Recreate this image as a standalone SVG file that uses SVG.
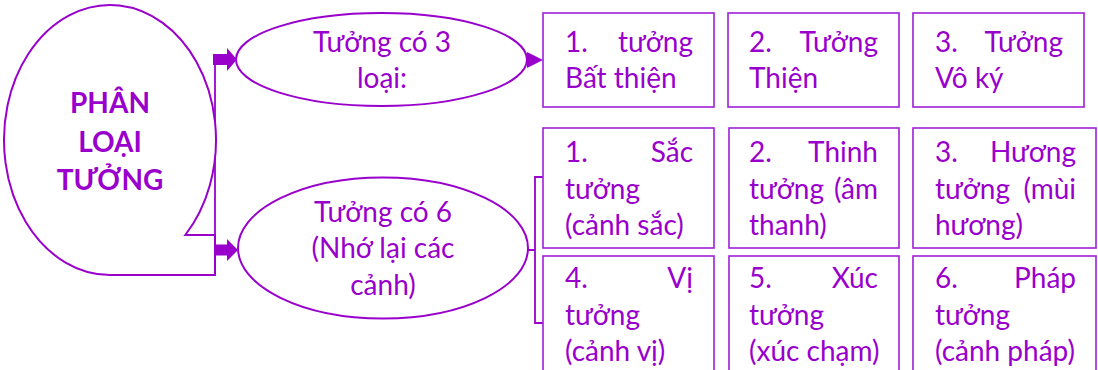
<svg xmlns="http://www.w3.org/2000/svg" width="1098" height="370" viewBox="0 0 1098 370">
<style>
.shape{fill:#fff;stroke:#9900cc;stroke-width:2}
.box{fill:#fff;stroke:#a11fd8;stroke-width:1.6}
.t{font-family:Lato,"Liberation Sans",sans-serif;font-size:28px;fill:#9900cc}
.c{text-anchor:middle}
.e{text-anchor:end}
.b{font-weight:bold;font-size:28px}
.ln{fill:none;stroke:#9900cc;stroke-width:1.8}
.ah{fill:#9900cc;stroke:none}
</style>
<rect width="1098" height="370" fill="#fff"/>
<g id="connectors">
<path class="ln" d="M215,236 V59.5"/>
<polygon class="ah" points="213,54 227,54 227,48 237,59.5 227,71 227,65 213,65"/>
<polygon class="ah" points="213,244.5 227,244.5 227,239 238,250 227,261 227,255.5 213,255.5"/>
<polygon class="ah" points="527,52 543,60 527,68"/>
<path class="ln" d="M528,250 H535 M543,177 H535 V323 H543"/>
</g>
<g id="root">
<path class="shape" d="M110,275 A106,135 0 1 1 185.3,235 L215,235 L215,275 Z"/>
<text class="t b c" x="110" y="113">PHÂN</text>
<text class="t b c" x="110" y="152">LOẠI</text>
<text class="t b c" x="110" y="190">TƯỞNG</text>
</g>
<g id="three">
<ellipse class="shape" cx="381.5" cy="59.5" rx="145.5" ry="46.5"/>
<text class="t c" x="382" y="52">Tưởng có 3</text>
<text class="t c" x="382" y="88">loại:</text>
</g>
<g id="six">
<ellipse class="shape" cx="383" cy="248" rx="145" ry="70.5"/>
<text class="t c" x="383" y="222">Tưởng có 6</text>
<text class="t c" x="383" y="258">(Nhớ lại các</text>
<text class="t c" x="383" y="295">cảnh)</text>
</g>
<g id="bat-thien">
<rect class="box" x="543" y="13" width="171" height="94"/>
<text class="t" y="52"><tspan x="565">1.</tspan><tspan class="e" x="693">tưởng</tspan></text>
<text class="t" x="565" y="88">Bất thiện</text>
</g>
<g id="thien">
<rect class="box" x="728" y="13" width="171" height="94"/>
<text class="t" y="52"><tspan x="749">2.</tspan><tspan class="e" x="878">Tưởng</tspan></text>
<text class="t" x="749" y="88">Thiện</text>
</g>
<g id="vo-ky">
<rect class="box" x="913" y="13" width="171" height="94"/>
<text class="t" y="52"><tspan x="935">3.</tspan><tspan class="e" x="1063">Tưởng</tspan></text>
<text class="t" x="935" y="88">Vô ký</text>
</g>
<g id="sac">
<rect class="box" x="543" y="128" width="171" height="120"/>
<text class="t" y="162"><tspan x="565">1.</tspan><tspan class="e" x="693">Sắc</tspan></text>
<text class="t" x="565" y="199">tưởng</text>
<text class="t" x="565" y="235">(cảnh sắc)</text>
</g>
<g id="thinh">
<rect class="box" x="729" y="128" width="170" height="120"/>
<text class="t" y="162"><tspan x="749">2.</tspan><tspan class="e" x="878">Thinh</tspan></text>
<text class="t" y="199"><tspan x="749">tưởng</tspan><tspan class="e" x="878">(âm</tspan></text>
<text class="t" x="749" y="235">thanh)</text>
</g>
<g id="huong">
<rect class="box" x="913" y="128" width="183" height="120"/>
<text class="t" y="162"><tspan x="935">3.</tspan><tspan class="e" x="1076">Hương</tspan></text>
<text class="t" y="199"><tspan x="935">tưởng</tspan><tspan class="e" x="1076">(mùi</tspan></text>
<text class="t" x="935" y="235">hương)</text>
</g>
<g id="vi">
<rect class="box" x="543" y="256" width="171" height="124"/>
<text class="t" y="288"><tspan x="565">4.</tspan><tspan class="e" x="693">Vị</tspan></text>
<text class="t" x="565" y="325">tưởng</text>
<text class="t" x="565" y="361">(cảnh vị)</text>
</g>
<g id="xuc">
<rect class="box" x="729" y="256" width="170" height="124"/>
<text class="t" y="288"><tspan x="749">5.</tspan><tspan class="e" x="878">Xúc</tspan></text>
<text class="t" x="749" y="325">tưởng</text>
<text class="t" x="749" y="361">(xúc chạm)</text>
</g>
<g id="phap">
<rect class="box" x="913" y="256" width="183" height="124"/>
<text class="t" y="288"><tspan x="935">6.</tspan><tspan class="e" x="1076">Pháp</tspan></text>
<text class="t" x="935" y="325">tưởng</text>
<text class="t" x="935" y="361">(cảnh pháp)</text>
</g>
</svg>
